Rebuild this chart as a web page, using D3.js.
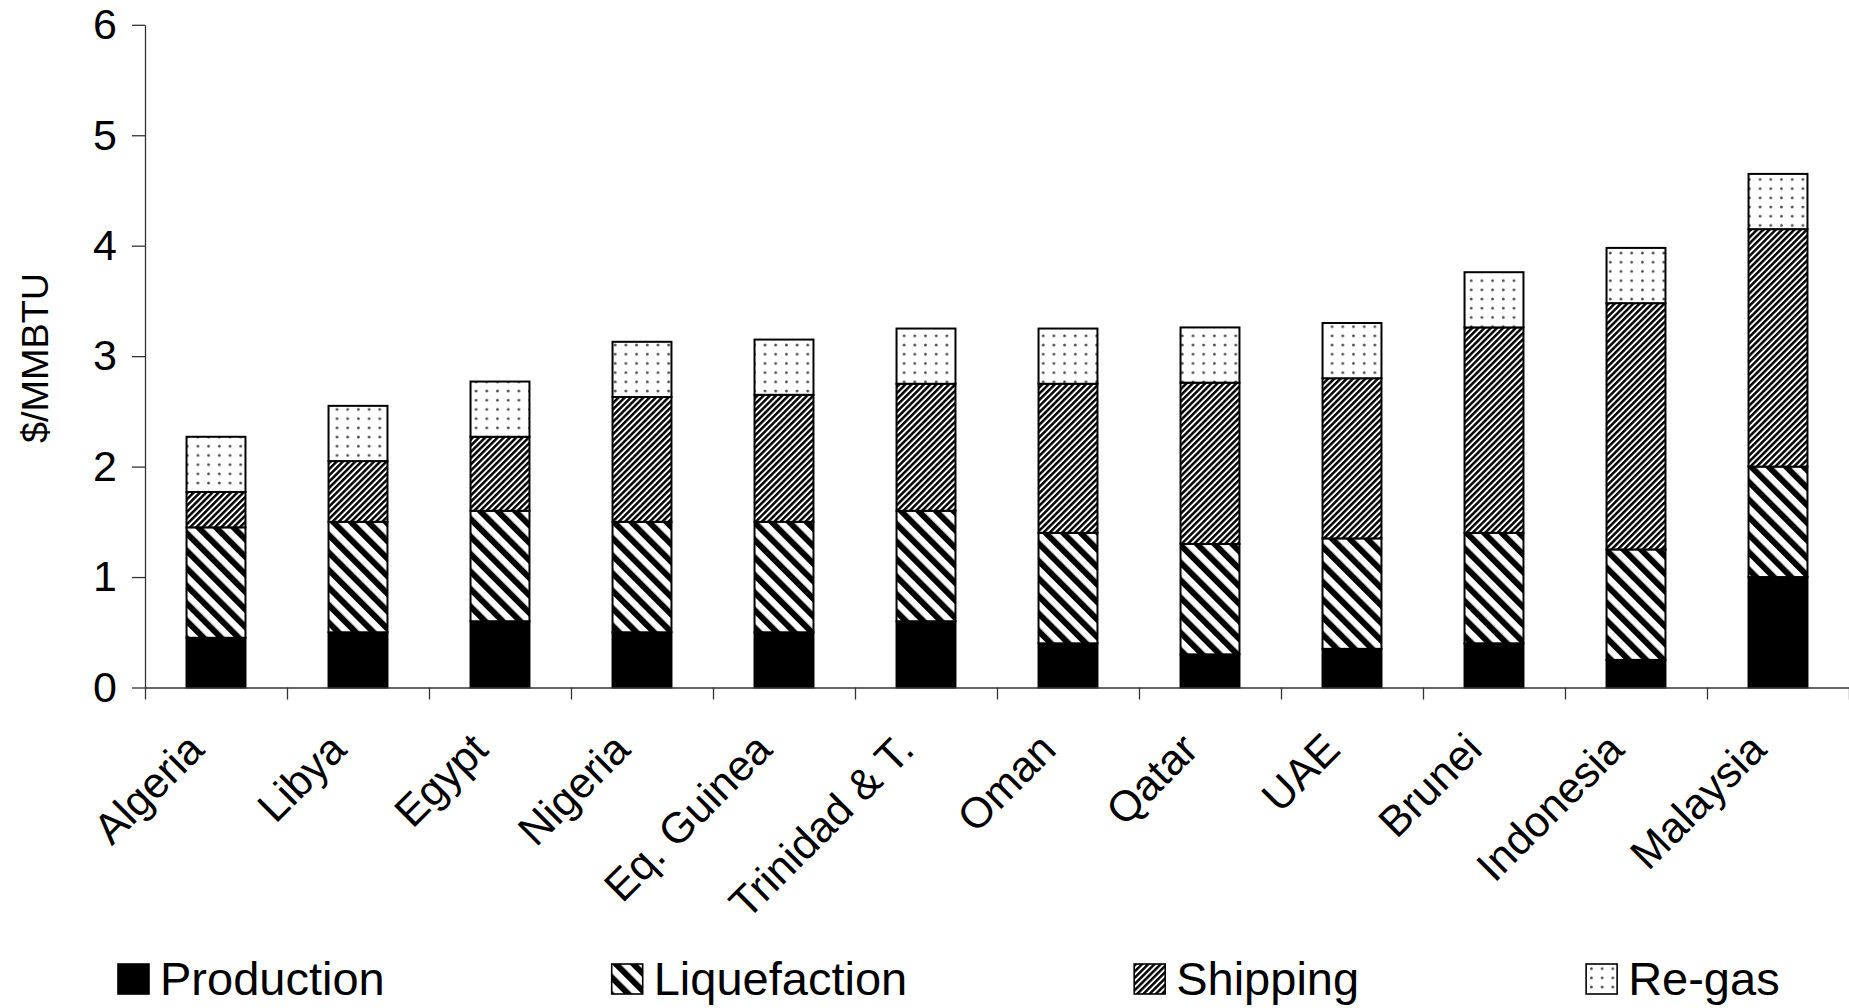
<!DOCTYPE html>
<html>
<head>
<meta charset="utf-8">
<script src="https://cdn.jsdelivr.net/npm/d3@7"></script>
<style>
  html, body { margin: 0; padding: 0; background: #fff; }
  svg { display: block; font-family: "Liberation Sans", Arial, sans-serif; }
</style>
</head>
<body>
<svg id="chart" width="1849" height="1008"></svg>
<script>
// LNG supply chain cost by exporting country, $/MMBTU
const countries = ["Algeria", "Libya", "Egypt", "Nigeria", "Eq. Guinea", "Trinidad & T.",
                   "Oman", "Qatar", "UAE", "Brunei", "Indonesia", "Malaysia"];
const production   = [0.45, 0.50, 0.60, 0.50, 0.50, 0.60, 0.40, 0.30, 0.35, 0.40, 0.25, 1.00];
const liquefaction = [1.00, 1.00, 1.00, 1.00, 1.00, 1.00, 1.00, 1.00, 1.00, 1.00, 1.00, 1.00];
const shipping     = [0.32, 0.55, 0.67, 1.13, 1.15, 1.15, 1.35, 1.46, 1.45, 1.86, 2.23, 2.15];
const regas        = [0.50, 0.50, 0.50, 0.50, 0.50, 0.50, 0.50, 0.50, 0.50, 0.50, 0.50, 0.50];
const seriesNames  = ["Production", "Liquefaction", "Shipping", "Re-gas"];
const yTicks       = [0, 1, 2, 3, 4, 5, 6];
const yTitle       = "$/MMBTU";

const svg = d3.select("#chart");
const plot = { left: 145, right: 1849, top: 24.8, bottom: 687.5 };

// Hatch fills
const defs = svg.append("defs");
const liq = defs.append("pattern").attr("id", "p-liq")
  .attr("patternUnits", "userSpaceOnUse").attr("width", 12.4).attr("height", 12.4)
  .attr("patternTransform", "rotate(-45)");
liq.append("rect").attr("width", 12.4).attr("height", 12.4).attr("fill", "#fff");
liq.append("rect").attr("x", 0).attr("width", 6.0).attr("height", 12.4).attr("fill", "#000");

const shp = defs.append("pattern").attr("id", "p-ship")
  .attr("patternUnits", "userSpaceOnUse").attr("width", 4.4).attr("height", 4.4)
  .attr("patternTransform", "rotate(45)");
shp.append("rect").attr("width", 4.4).attr("height", 4.4).attr("fill", "#fff");
shp.append("rect").attr("x", 0).attr("width", 2.5).attr("height", 4.4).attr("fill", "#000");

const dots = defs.append("pattern").attr("id", "p-dots")
  .attr("patternUnits", "userSpaceOnUse").attr("width", 10.7).attr("height", 9.2);
dots.append("rect").attr("width", 10.7).attr("height", 9.2).attr("fill", "#fff");
dots.append("circle").attr("cx", 5.3).attr("cy", 4.6).attr("r", 1.4).attr("fill", "#444");

const fills = ["#000", "url(#p-liq)", "url(#p-ship)", "url(#p-dots)"];

// Scales
const x = d3.scaleBand().domain(countries).range([plot.left, plot.right])
  .paddingInner(0.585).paddingOuter(0.2925);
const y = d3.scaleLinear().domain([0, 6]).range([plot.bottom, plot.top]);

// Stacked data
const rows = countries.map((c, i) => ({
  country: c,
  Production: production[i],
  Liquefaction: liquefaction[i],
  Shipping: shipping[i],
  "Re-gas": regas[i]
}));
const stacked = d3.stack().keys(seriesNames)(rows);

svg.append("g").selectAll("g").data(stacked).join("g")
  .attr("fill", (d, i) => fills[i])
  .selectAll("rect").data(d => d).join("rect")
  .attr("x", d => x(d.data.country))
  .attr("width", x.bandwidth())
  .attr("y", d => y(d[1]))
  .attr("height", d => y(d[0]) - y(d[1]))
  .attr("stroke", "#000").attr("stroke-width", 2);

// Y axis
const yAxis = svg.append("g").attr("transform", `translate(${plot.left},0)`)
  .call(d3.axisLeft(y).tickValues(yTicks).tickFormat(d3.format("d"))
    .tickSize(13).tickSizeOuter(0).tickPadding(15));
yAxis.selectAll("path, line").attr("stroke", "#333").attr("stroke-width", 1.3);
yAxis.selectAll("text").attr("font-size", 43).attr("fill", "#000")
  .attr("font-family", "Liberation Sans, Arial, sans-serif");

// X axis: ticks on category boundaries
const xb = d3.scaleLinear().domain([0, countries.length]).range([plot.left, plot.right]);
const xAxis = svg.append("g").attr("transform", `translate(0,${plot.bottom})`)
  .call(d3.axisBottom(xb).tickValues(d3.range(0, countries.length + 1))
    .tickFormat("").tickSize(12).tickSizeOuter(0));
xAxis.selectAll("path, line").attr("stroke", "#333").attr("stroke-width", 1.3);

// Category labels, rotated
svg.append("g").selectAll("text").data(countries).join("text")
  .attr("transform", d => `translate(${x(d) + x.bandwidth() / 2 - 31},${plot.bottom + 43}) rotate(-45)`)
  .attr("text-anchor", "end")
  .attr("dy", "0.7em")
  .attr("font-size", 43)
  .attr("fill", "#000")
  .text(d => d);

// Y axis title
svg.append("text")
  .attr("transform", `translate(48,358) rotate(-90)`)
  .attr("text-anchor", "middle")
  .attr("font-size", 37)
  .attr("textLength", 170).attr("lengthAdjust", "spacingAndGlyphs")
  .attr("fill", "#000")
  .text(yTitle);

// Legend, items laid out left to right with a fixed gap
const legend = svg.append("g").attr("transform", "translate(0,964)");
let lx = 118;
seriesNames.forEach((name, i) => {
  const g = legend.append("g").attr("transform", `translate(${lx},0)`);
  g.append("rect").attr("width", 31).attr("height", 30)
    .attr("fill", fills[i]).attr("stroke", "#000").attr("stroke-width", 1.6);
  const t = g.append("text").attr("x", 42).attr("y", 31).attr("font-size", 47)
    .attr("fill", "#000").text(name);
  lx += 42 + t.node().getComputedTextLength() + 227;
});
</script>
</body>
</html>
